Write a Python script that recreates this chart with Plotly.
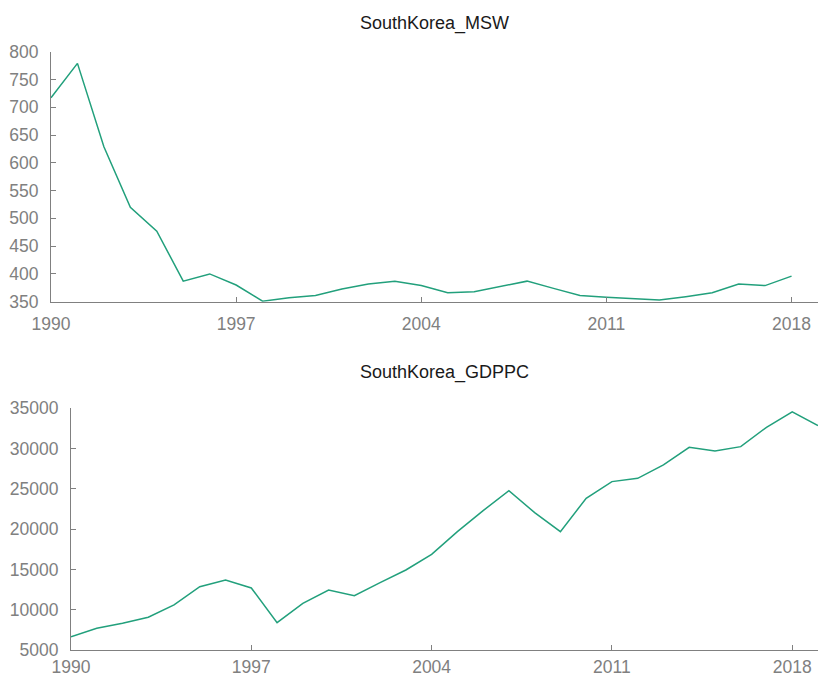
import plotly.graph_objects as go

years = list(range(1990, 2020))

msw_years = list(range(1990, 2019))
msw = [717, 779, 629, 520, 477, 387, 400, 380, 351, 357, 361, 373, 382, 387,
       379, 366, 368, 377, 387, 374, 361, 358, 356, 353, 359, 366, 382, 379, 396]

gdppc_years = years
gdppc = [6650, 7690, 8310, 9060, 10590, 12860, 13690, 12700, 8390, 10790,
         12450, 11750, 13360, 14930, 16880, 19690, 22300, 24780, 22050, 19690,
         23830, 25900, 26310, 27970, 30160, 29700, 30240, 32640, 34570, 32850]

x_ticks = [1990, 1997, 2004, 2011, 2018]
msw_ticks = list(range(350, 801, 50))
gdppc_ticks = list(range(5000, 35001, 5000))

titles = ["SouthKorea_MSW", "SouthKorea_GDPPC"]

W, H = 818, 677
LINE = "#22a07c"
AXIS = "#808080"
FONT = "Liberation Sans, Arial, sans-serif"

fig = go.Figure()
fig.add_trace(go.Scatter(x=msw_years, y=msw, mode="lines",
                         line=dict(color=LINE, width=1.5),
                         xaxis="x", yaxis="y", showlegend=False))
fig.add_trace(go.Scatter(x=gdppc_years, y=gdppc, mode="lines",
                         line=dict(color=LINE, width=1.5),
                         xaxis="x2", yaxis="y2", showlegend=False))

def py(px):
    return 1 - px / H

axis_common = dict(showline=True, linecolor=AXIS, linewidth=1,
                   ticks="inside", ticklen=5, tickcolor=AXIS, tickwidth=1,
                   showgrid=False, zeroline=False, automargin=False,
                   tickfont=dict(family=FONT, size=17.5, color=AXIS))
x_common = dict(tickvals=x_ticks, ticktext=[str(v) for v in x_ticks], **axis_common)
y_common = dict(ticklabelstandoff=8, **axis_common)

fig.update_layout(
    template="none",
    width=W, height=H,
    margin=dict(l=0, r=0, t=0, b=0),
    paper_bgcolor="white", plot_bgcolor="white",
    xaxis=dict(domain=[51 / W, 1.0], range=[1990, 2019], anchor="y",
               ticklabelstandoff=6, **x_common),
    yaxis=dict(domain=[py(301.7), py(51.7)], range=[350, 800], anchor="x",
               tickvals=msw_ticks, ticktext=[str(v) for v in msw_ticks], **y_common),
    xaxis2=dict(domain=[71 / W, 1.0], range=[1990, 2019], anchor="y2",
                ticklabelstandoff=1, **x_common),
    yaxis2=dict(domain=[py(650), py(408.3)], range=[5000, 35000], anchor="x2",
                tickvals=gdppc_ticks, ticktext=[str(v) for v in gdppc_ticks], **y_common),
    annotations=[
        dict(text=titles[0], x=(51 + W) / 2 / W, y=py(23), xref="paper", yref="paper",
             showarrow=False, xanchor="center", yanchor="middle",
             font=dict(family=FONT, size=18, color="#1a1a1a")),
        dict(text=titles[1], x=(71 + W) / 2 / W, y=py(372), xref="paper", yref="paper",
             showarrow=False, xanchor="center", yanchor="middle",
             font=dict(family=FONT, size=18, color="#1a1a1a")),
    ],
)

fig.write_html("out.html")
